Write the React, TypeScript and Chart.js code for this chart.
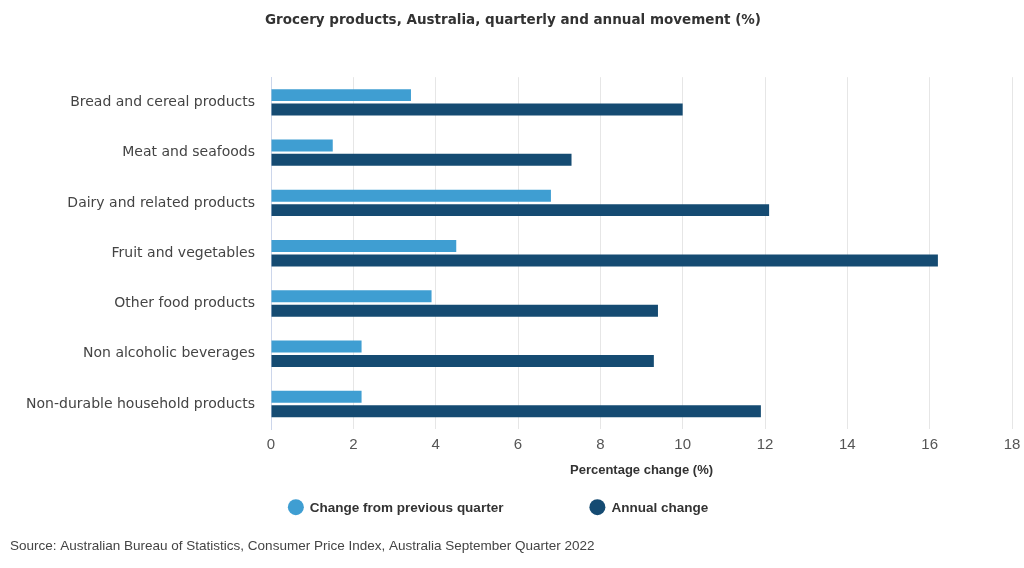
import React, { useEffect, useRef } from "react";
import { Chart, registerables } from "chart.js";

Chart.register(...registerables);

const categories = [
  "Bread and cereal products",
  "Meat and seafoods",
  "Dairy and related products",
  "Fruit and vegetables",
  "Other food products",
  "Non alcoholic beverages",
  "Non-durable household products",
];
const quarterlyChange = [3.4, 1.5, 6.8, 4.5, 3.9, 2.2, 2.2];
const annualChange = [10.0, 7.3, 12.1, 16.2, 9.4, 9.3, 11.9];
const seriesNames = ["Change from previous quarter", "Annual change"];
const titleText = "Grocery products, Australia, quarterly and annual movement (%)";
const xAxisTitle = "Percentage change (%)";
const sourceText = "Source: Australian Bureau of Statistics, Consumer Price Index, Australia September Quarter 2022";

const LIGHT = "#3f9ed2";
const DARK = "#154b72";
const MAIN_FONT = "'DejaVu Sans', sans-serif";
const NARROW_FONT = "'Liberation Sans', Arial, sans-serif";

const customLegend = {
  id: "customLegend",
  afterDraw(chart: any) {
    const ctx = chart.ctx;
    const y = chart.chartArea.bottom + 78;
    const r = 8;
    const gapText = 6;
    const gapItem = 86;
    ctx.save();
    ctx.font = `bold 13.5px ${NARROW_FONT}`;
    const items = chart.data.datasets.map((ds: any) => ({
      text: ds.label,
      color: ds.backgroundColor,
      w: 2 * r + gapText + ctx.measureText(ds.label).width,
    }));
    const total = items.reduce((s: number, it: any) => s + it.w, 0) + gapItem * (items.length - 1);
    let x = chart.width / 2 - 14 - total / 2;
    ctx.textBaseline = "middle";
    ctx.textAlign = "left";
    for (const it of items) {
      ctx.beginPath();
      ctx.fillStyle = it.color;
      ctx.arc(x + r, y, r, 0, Math.PI * 2);
      ctx.fill();
      ctx.fillStyle = "#333333";
      ctx.fillText(it.text, x + 2 * r + gapText, y + 1);
      x += it.w + gapItem;
    }
    ctx.restore();
  },
};

export default function App() {
  const ref = useRef<HTMLCanvasElement | null>(null);
  useEffect(() => {
    if (!ref.current) return;
    const chart = new Chart(ref.current, {
      type: "bar",
      data: {
        labels: categories,
        datasets: [
          { label: seriesNames[0], data: quarterlyChange, backgroundColor: LIGHT, categoryPercentage: 0.574, barPercentage: 0.83 },
          { label: seriesNames[1], data: annualChange, backgroundColor: DARK, categoryPercentage: 0.574, barPercentage: 0.83 },
        ],
      },
      plugins: [customLegend],
      options: {
        indexAxis: "y",
        animation: false,
        responsive: false,
        maintainAspectRatio: false,
        layout: { padding: { left: 10, right: 8, top: 0, bottom: 0 } },
        plugins: {
          legend: { display: false },
          tooltip: { enabled: false },
          title: {
            display: true,
            text: titleText,
            color: "#333333",
            font: { family: MAIN_FONT, size: 13.5, weight: "bold" },
            padding: { top: 12, bottom: 49 },
          },
          subtitle: {
            display: true,
            text: sourceText,
            position: "bottom",
            align: "start",
            color: "#444444",
            font: { family: NARROW_FONT, size: 13.5 },
            padding: { top: 60, bottom: 14 },
          },
        },
        scales: {
          x: {
            min: 0,
            max: 18,
            ticks: {
              stepSize: 2,
              color: "#555555",
              font: { family: NARROW_FONT, size: 15 },
              padding: 7,
            },
            grid: { color: "#e6e6e6", drawTicks: false },
            border: { display: false },
            title: {
              display: true,
              text: xAxisTitle,
              color: "#333333",
              font: { family: NARROW_FONT, size: 13, weight: "bold" },
              padding: { top: 1, bottom: 0 },
            },
            afterFit(scale: any) {
              scale.paddingRight = 12;
            },
          },
          y: {
            grid: { display: false },
            border: { display: true, color: "#ccd6eb", width: 1 },
            ticks: {
              color: "#444444",
              font: { family: MAIN_FONT, size: 14 },
              padding: 8,
            },
            afterFit(scale: any) {
              scale.width = 261;
            },
          },
        },
      },
    } as any);
    return () => chart.destroy();
  }, []);
  return (
    <div style={{ position: "absolute", left: 0, top: 0, width: 1024, height: 568, background: "#ffffff" }}>
      <canvas ref={ref} width={1024} height={568} style={{ width: 1024, height: 568 }} />
    </div>
  );
}
